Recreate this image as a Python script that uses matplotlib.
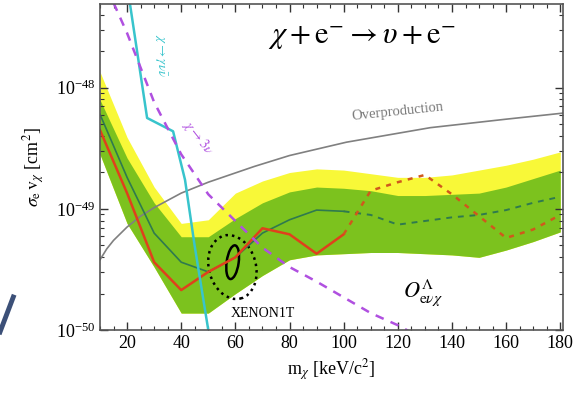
import numpy as np
import matplotlib
matplotlib.use("Agg")
import matplotlib.pyplot as plt
from matplotlib.patches import Ellipse
from matplotlib.lines import Line2D
from matplotlib.transforms import ScaledTranslation
from matplotlib.ticker import MultipleLocator, LogLocator, NullFormatter

plt.rcParams['font.family'] = ['Liberation Serif', 'DejaVu Serif']
plt.rcParams['mathtext.fontset'] = 'stix'

# sensitivity bands and limits, log10 of sigma_e * v_chi [cm^2]
mass = [10, 20, 30, 40, 50, 60, 70, 80, 90, 100, 110, 120, 130, 140, 150, 160, 170, 180]
green_lo = [-48.55, -49.12, -49.48, -49.86, -49.86, -49.70, -49.55, -49.42, -49.38,
            -49.37, -49.36, -49.36, -49.37, -49.38, -49.40, -49.34, -49.27, -49.19]
green_hi = [-48.10, -48.58, -48.95, -49.23, -49.23, -49.08, -48.95, -48.86, -48.82,
            -48.83, -48.85, -48.89, -48.89, -48.88, -48.87, -48.82, -48.75, -48.68]
yellow_hi = [-47.87, -48.41, -48.82, -49.12, -49.09, -48.87, -48.77, -48.70, -48.67,
             -48.68, -48.71, -48.74, -48.74, -48.72, -48.68, -48.64, -48.59, -48.53]

median_solid_m = [10, 20, 30, 40, 50, 60, 70, 80, 90, 100]
median_solid = [-48.22, -48.74, -49.20, -49.44, -49.52, -49.40, -49.20, -49.09, -49.01, -49.02]
median_dash_m = [100, 110, 120, 130, 140, 150, 160, 170, 180]
median_dash = [-49.02, -49.05, -49.13, -49.10, -49.07, -49.05, -49.01, -48.95, -48.90]

limit_solid_m = [10, 20, 30, 40, 50, 60, 70, 80, 90, 100]
limit_solid = [-48.35, -48.87, -49.44, -49.67, -49.52, -49.40, -49.16, -49.21, -49.37, -49.21]
limit_dash_m = [100, 110, 120, 130, 140, 150, 160, 170, 180]
limit_dash = [-49.21, -48.85, -48.78, -48.72, -48.88, -49.06, -49.24, -49.17, -49.05]

gamma_m = [20, 27.4, 37, 41.4, 45, 50, 51]
gamma_lim = [-47.15, -48.25, -48.36, -48.76, -49.31, -50.0, -50.15]

three_nu_m = [15, 20, 30, 40, 50, 60, 70, 80, 90, 100, 110, 120, 125]
three_nu = [-47.30, -47.55, -48.12, -48.55, -48.88, -49.10, -49.32, -49.48, -49.60,
            -49.73, -49.86, -49.96, -50.02]

overprod_m = [10, 12.5, 15, 20, 25, 30, 40, 50, 67, 80, 101, 132, 160, 181]
overprod = [-49.42, -49.33, -49.26, -49.15, -49.06, -48.99, -48.87, -48.78, -48.65,
            -48.56, -48.45, -48.33, -48.26, -48.21]

# XENON1T excess contours: centre (mass, log10 sigma)
xe_centre = (59, -49.44)
xe_outer_centre = (58.9, -49.48)


def p(v):
    return 10.0 ** np.asarray(v)


fig = plt.figure(figsize=(5.78, 4.04), dpi=100)
ax = fig.add_axes([0.173, 0.183, 0.801, 0.807])

ax.fill_between(mass, p(green_lo), p(yellow_hi), color='#f8f838', lw=0)
ax.fill_between(mass, p(green_lo), p(green_hi), color='#7cc21e', lw=0)

ax.plot(overprod_m, p(overprod), color='#808080', lw=1.2)
ax.plot(median_solid_m, p(median_solid), color='#2f7a4e', lw=1.2)
ax.plot(median_dash_m, p(median_dash), color='#2f7a4e', lw=1.4, ls=(0, (3, 3)))
ax.plot(limit_solid_m, p(limit_solid), color='#e0401c', lw=1.8)
ax.plot(limit_dash_m, p(limit_dash), color='#d0581c', lw=1.8, ls=(0, (2, 2.5)))
ax.plot(gamma_m, p(gamma_lim), color='#38c4cc', lw=1.8)
ax.plot(three_nu_m, p(three_nu), color='#b050e0', lw=1.8, ls=(0, (3.5, 3)))

# excess regions, sized in inches around their data centres
inner = Ellipse((0, 0), 0.12, 0.34, angle=-8, fill=False, ec='black', lw=1.8,
                transform=fig.dpi_scale_trans + ScaledTranslation(xe_centre[0], p(xe_centre[1]), ax.transData))
outer = Ellipse((0, 0), 0.47, 0.65, angle=15, fill=False, ec='black', lw=1.8, ls=(0, (1, 1.6)),
                transform=fig.dpi_scale_trans + ScaledTranslation(xe_outer_centre[0], p(xe_outer_centre[1]), ax.transData))
ax.add_patch(inner)
ax.add_patch(outer)

ax.set_yscale('log')
ax.set_xlim(10, 181)
ax.set_ylim(1e-50, p(-47.31))

ax.xaxis.set_major_locator(MultipleLocator(20))
ax.xaxis.set_minor_locator(MultipleLocator(5))
ax.set_yticks([1e-50, 1e-49, 1e-48])
ax.yaxis.set_minor_locator(LogLocator(base=10, subs=np.arange(2, 10), numticks=20))
ax.yaxis.set_minor_formatter(NullFormatter())
ax.tick_params(which='both', direction='in', top=True, right=True, labelsize=13, colors='#333333')
ax.tick_params(which='major', length=6, width=1)
ax.tick_params(which='minor', length=3, width=0.8)
for s in ax.spines.values():
    s.set_color('#555555')
    s.set_linewidth(1.2)
for lab in ax.get_xticklabels() + ax.get_yticklabels():
    lab.set_color('black')

ax.set_xlabel(r'm$_{\chi}$ [keV/c$^{2}$]', fontsize=13, labelpad=4)
ax.set_ylabel(r'$\sigma_{\mathrm{e}}\,\mathrm{v}_{\chi}$ [cm$^{2}$]', fontsize=13, labelpad=6)

ax.text(0.566, 0.896, r'$\chi + \mathrm{e}^{-} \rightarrow \upsilon + \mathrm{e}^{-}$',
        transform=ax.transAxes, fontsize=22, ha='center', va='center')
ax.text(120, p(-48.2), 'Overproduction', color='#7a7a7a', fontsize=10.5,
        rotation=6, ha='center', va='center')
ax.text(70, p(-49.86), 'XENON1T', fontsize=10, ha='center', va='center')
ax.text(129.4, p(-49.69), r'$O^{\Lambda}_{\mathrm{e}\nu\chi}$', fontsize=16,
        ha='center', va='center')
ax.text(32.2, p(-47.74), r'$\chi\rightarrow\gamma\nu\bar{\nu}$', color='#38c4cc',
        fontsize=9.5, rotation=-90, ha='center', va='center')
ax.text(46.2, p(-48.41), r'$\chi\rightarrow3\nu$', color='#b050e0',
        fontsize=10, rotation=-52, ha='center', va='center')

# stray slash at the left margin
fig.add_artist(Line2D([0.023, 0.0], [1 - 297 / 404, 1 - 332 / 404],
                      transform=fig.transFigure, color='#3c5078', lw=3.5))

fig.savefig('out.png', dpi=100)
